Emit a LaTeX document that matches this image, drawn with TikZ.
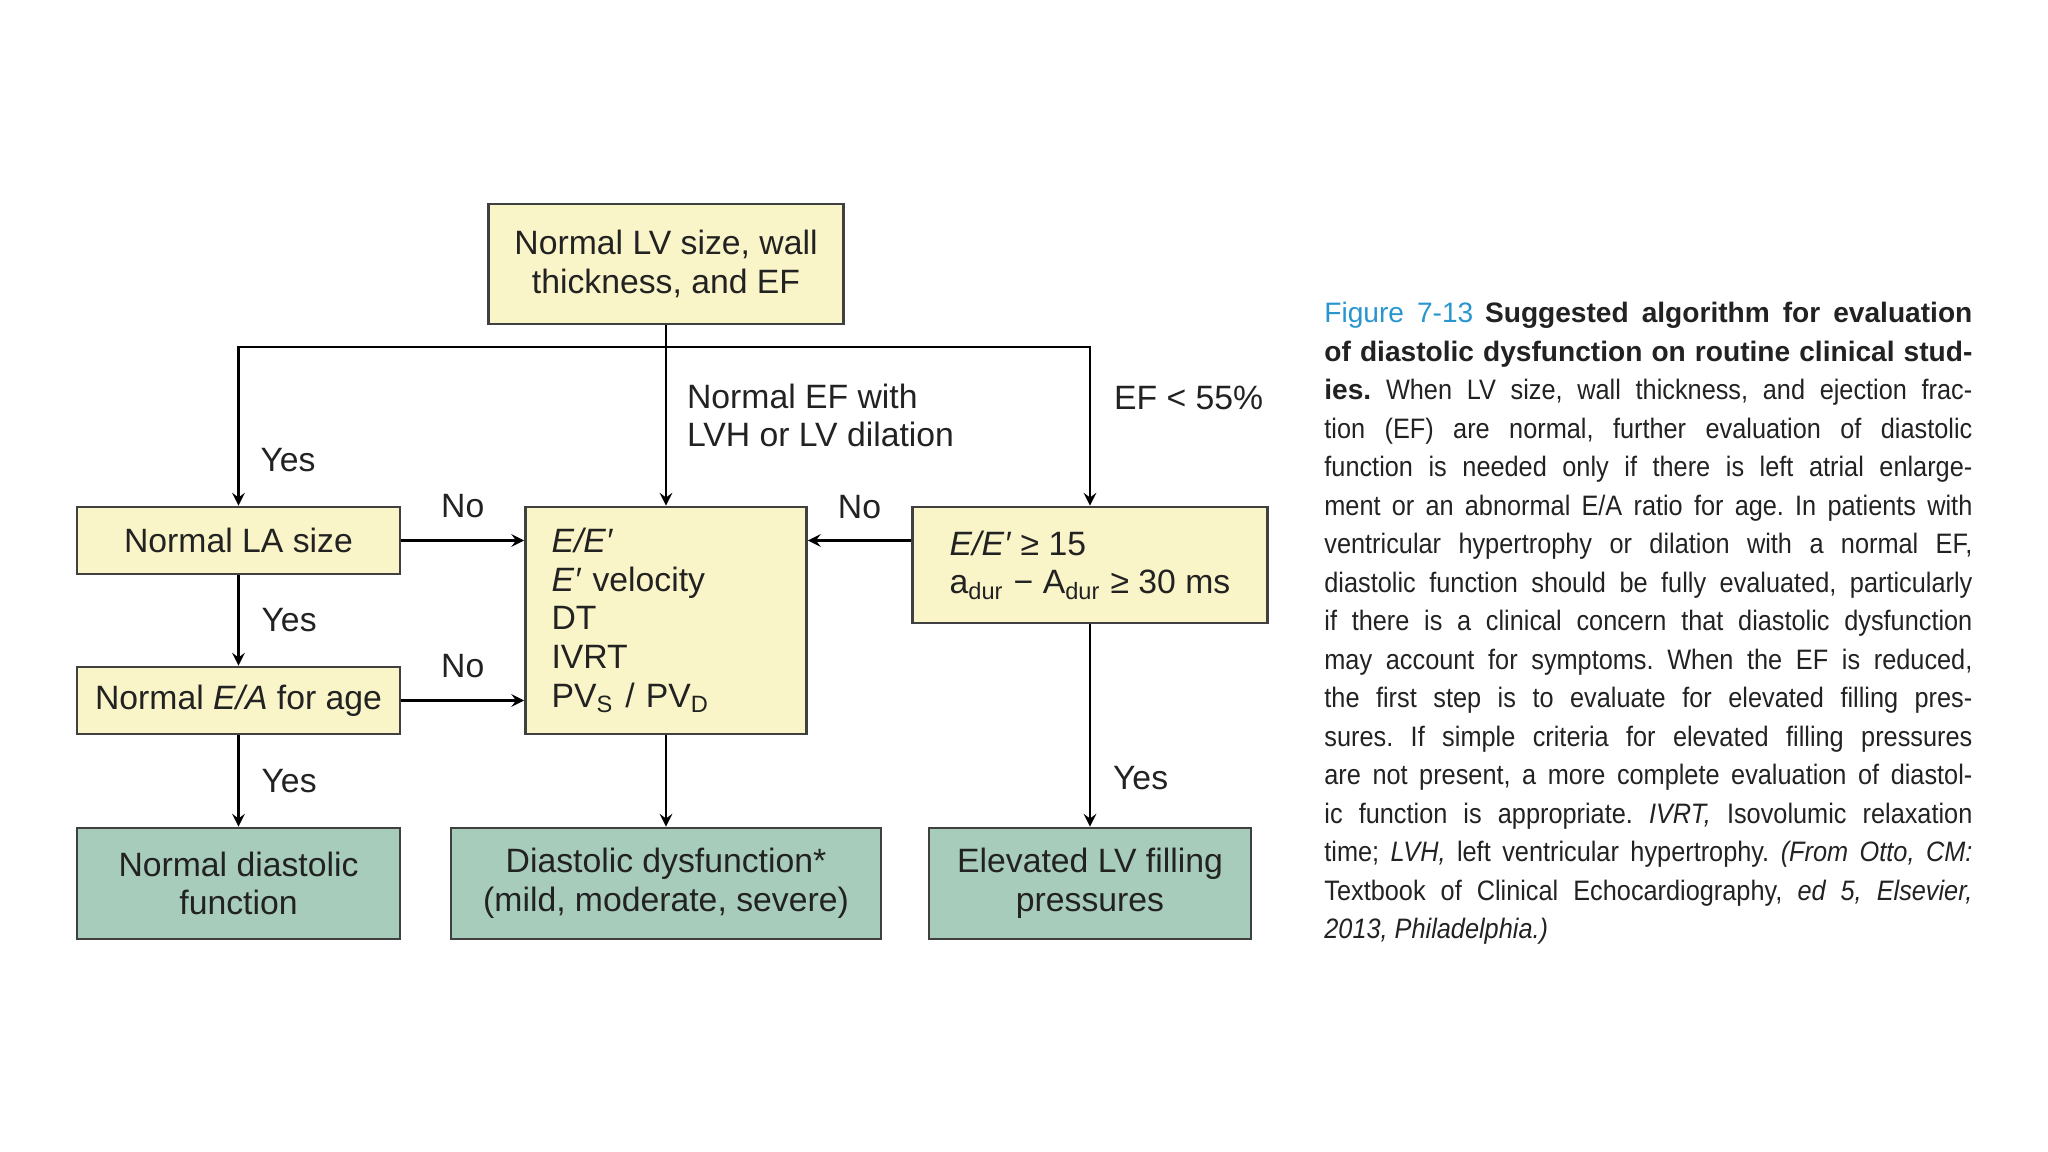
\documentclass[tikz,border=0pt]{standalone}
\usepackage{fontspec}
\setmainfont{Liberation Sans}
\newfontfamily\leyenda[FakeStretch=0.9]{Liberation Sans}
\newfontfamily\leyendaNegrita{Liberation Sans}
\newcommand{\fuenteDiagrama}{\fontsize{9.6}{11}\selectfont}
\newcommand{\fuenteLeyenda}{\leyenda\fontsize{8}{10.95}\selectfont}
\definecolor{amarillo}{RGB}{250,245,200}
\definecolor{verde}{RGB}{168,204,188}
\definecolor{azulFigura}{RGB}{40,150,205}
\definecolor{tinta}{RGB}{34,34,34}

\begin{document}
\begin{tikzpicture}[node distance=4cm, thick, >=stealth, every node/.style={font=\fuenteDiagrama, text=tinta}]
        % Definición de estilos
        \tikzstyle{nodoCriterio} = [draw=black!75, rectangle, fill=amarillo, inner sep=0pt, text centered]
        \tikzstyle{nodoResultado} = [draw=black!75, rectangle, fill=verde, inner sep=0pt, text centered, minimum height=1.11cm]
        \tikzstyle{etiqueta} = [inner sep=0pt]

        \useasboundingbox (0,0) rectangle (20.48,-11.52);

        % Nodos de criterios
        \node[nodoCriterio, minimum width=3.55cm, minimum height=1.2cm, align=center] (inicio) at (6.66,-2.64) {Normal LV size, wall\\thickness, and EF};
        \node[nodoCriterio, below of=inicio, yshift=0.435cm, text width=2.29cm, inner xsep=0.26cm, minimum height=2.27cm, align=left] (parametros) {\textit{E/E′}\\\textit{E′} velocity\\DT\\IVRT\\PV\textsubscript{S} / PV\textsubscript{D}};
        \node[nodoCriterio, left of=parametros, xshift=-0.275cm, yshift=0.8cm, minimum width=3.23cm, minimum height=0.67cm] (tamanoAI) {Normal LA size};
        \node[nodoCriterio, below of=tamanoAI, yshift=2.4cm, minimum width=3.23cm, minimum height=0.67cm] (relacionEA) {Normal \textit{E/A} for age};
        \node[nodoCriterio, right of=parametros, xshift=0.24cm, yshift=0.555cm, minimum width=3.55cm, minimum height=1.16cm, align=left] (presiones) {\textit{E/E′} ≥ 15\\a\textsubscript{dur} − A\textsubscript{dur} ≥ 30 ms};

        % Nodos de resultados
        \node[nodoResultado, below of=relacionEA, yshift=2.17cm, minimum width=3.23cm, align=center] (normal) {Normal diastolic\\function};
        \node[nodoResultado, below of=parametros, yshift=1.37cm, minimum width=4.30cm, align=center] (disfuncion) {Diastolic dysfunction*\\(mild, moderate, severe)};
        \node[nodoResultado, below of=presiones, yshift=0.815cm, minimum width=3.22cm, align=center] (elevadas) {Elevated LV filling\\pressures};

        % Bifurcación
        \coordinate (bifurcacion) at ([yshift=-0.22cm]inicio.south);

        % Aristas
        \draw[->, semithick] (inicio) -- node[etiqueta, anchor=west, xshift=0.2cm, align=left] {Normal EF with\\LVH or LV dilation} (parametros);
        \draw[->, semithick] (bifurcacion) -| node[etiqueta, pos=0.855, anchor=west, xshift=0.21cm] {Yes} (tamanoAI);
        \draw[->, semithick] (bifurcacion) -| node[etiqueta, pos=0.66, anchor=west, xshift=0.23cm] {EF < 55\%} (presiones);
        \draw[->, semithick] (tamanoAI.east) -- node[etiqueta, anchor=south, yshift=0.22cm] {No} (tamanoAI.east -| parametros.west);
        \draw[->, semithick] (relacionEA.east) -- node[etiqueta, anchor=south, yshift=0.22cm] {No} (relacionEA.east -| parametros.west);
        \draw[->, semithick] (presiones.west |- tamanoAI.east) -- node[etiqueta, anchor=south, yshift=0.21cm] {No} (parametros.east |- tamanoAI.east);
        \draw[->, semithick] (tamanoAI) -- node[etiqueta, anchor=west, xshift=0.22cm] {Yes} (relacionEA);
        \draw[->, semithick] (relacionEA) -- node[etiqueta, anchor=west, xshift=0.22cm] {Yes} (normal);
        \draw[->, semithick] (parametros) -- (disfuncion);
        \draw[->, semithick] (presiones) -- node[etiqueta, pos=0.76, anchor=west, xshift=0.22cm] {Yes} (elevadas);

        % Leyenda
        \node[anchor=north west, text width=6.48cm, inner sep=0pt, align=justify, font=\fuenteLeyenda] (leyenda) at (13.23,-3.01) {\tolerance=10000\hyphenpenalty=10000\frenchspacing%
{\leyendaNegrita\color{azulFigura}Figure 7-13} {\leyendaNegrita\bfseries Suggested algorithm for evaluation\linebreak
of diastolic dysfunction on routine clinical stud-\linebreak
ies.} When LV size, wall thickness, and ejection frac-\linebreak
tion (EF) are normal, further evaluation of diastolic\linebreak
function is needed only if there is left atrial enlarge-\linebreak
ment or an abnormal E/A ratio for age. In patients with\linebreak
ventricular hypertrophy or dilation with a normal EF,\linebreak
diastolic function should be fully evaluated, particularly\linebreak
if there is a clinical concern that diastolic dysfunction\linebreak
may account for symptoms. When the EF is reduced,\linebreak
the first step is to evaluate for elevated filling pres-\linebreak
sures. If simple criteria for elevated filling pressures\linebreak
are not present, a more complete evaluation of diastol-\linebreak
ic function is appropriate. \textit{IVRT,} Isovolumic relaxation\linebreak
time; \textit{LVH,} left ventricular hypertrophy. \textit{(From Otto, CM:}\linebreak
Textbook of Clinical Echocardiography, \textit{ed 5, Elsevier,}\linebreak
\textit{2013, Philadelphia.)}};
    \end{tikzpicture}
\end{document}
